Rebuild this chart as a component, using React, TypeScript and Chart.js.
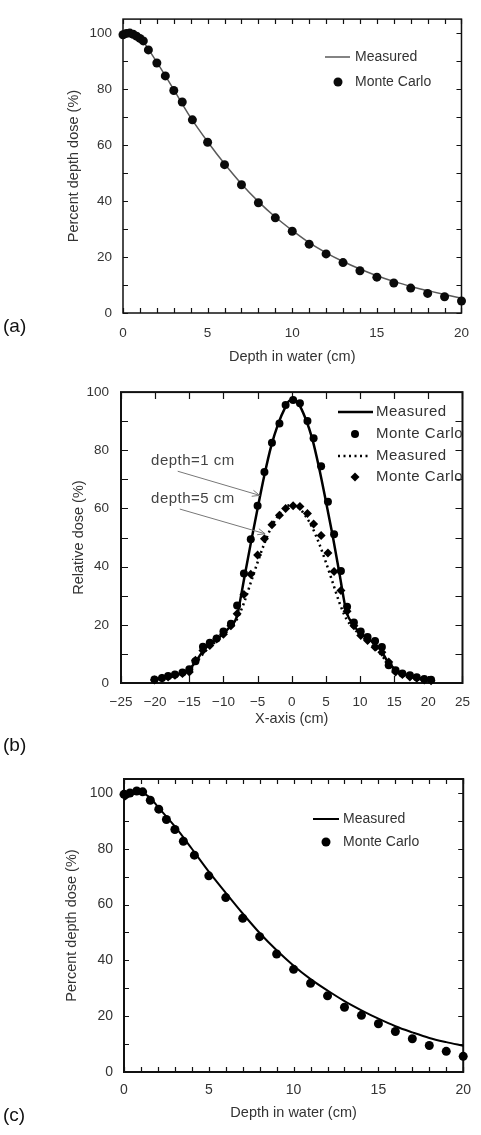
import React, { useEffect, useLayoutEffect, useRef } from "react";
import { Chart, registerables } from "chart.js";

Chart.register(...registerables);

const FONT = '"Liberation Sans", Arial, Helvetica, sans-serif';
const TEXT = "#333333";
const W = 481;

// ---------- (a) percent depth dose ----------
const A_MEAS_X = [0, 0.25, 0.5, 0.75, 1, 1.5, 2, 3, 4, 5, 6, 7, 8, 9, 10, 11, 12, 13, 14, 15, 16, 17, 18, 19, 20];
const A_MEAS_Y = [98.8, 99.7, 100, 99.5, 98.6, 94.3, 89.6, 79.8, 69.8, 61.2, 53.3, 46.1, 39.8, 34.3, 29.5, 25.1, 21.5, 18.4, 15.7, 13.3, 11.3, 9.5, 8.0, 6.6, 5.3];
const A_MC_X = [0, 0.2, 0.4, 0.6, 0.8, 1.0, 1.2, 1.5, 2, 2.5, 3, 3.5, 4.1, 5, 6, 7, 8, 9, 10, 11, 12, 13, 14, 15, 16, 17, 18, 19, 20];
const A_MC_Y = [99.4, 99.9, 100, 99.6, 98.9, 98.1, 97.2, 94, 89.3, 84.7, 79.5, 75.4, 69, 61, 53, 45.8, 39.4, 34, 29.2, 24.6, 21.1, 18, 15.1, 12.8, 10.7, 8.9, 7.0, 5.8, 4.3];

// ---------- (b) lateral profiles ----------
const B1_MEAS_X = [-20, -18, -16, -15, -14, -13, -12, -11, -10, -9, -8, -7.5, -7, -6, -5, -4, -3, -2, -1, -0.3, 0.5, 1, 2, 3, 4, 5, 6, 7, 7.5, 8, 9, 10, 11, 12, 13, 14, 15, 16, 18, 20];
const B1_MEAS_Y = [1.2, 2.2, 3.5, 4.8, 7.5, 11, 13.2, 15, 17, 19.5, 23, 29, 35.5, 48, 60, 71.5, 81.5, 89, 94.5, 97, 97, 96, 91, 84, 74, 62.5, 50.5, 37.5, 30.5, 24.5, 20, 17.3, 15.5, 13.8, 11.5, 7.5, 5, 3.5, 2, 1.2];
const B1_MC_X = [-20.1, -19.0, -18.1, -17.1, -16.0, -15.0, -14.1, -13.0, -12.0, -11.0, -10.0, -8.9, -8.0, -7.0, -6.0, -5.0, -4.0, -2.9, -1.8, -0.9, 0.2, 1.2, 2.3, 3.2, 4.3, 5.3, 6.2, 7.2, 8.1, 9.1, 10.1, 11.1, 12.2, 13.2, 14.2, 15.2, 16.2, 17.3, 18.3, 19.4, 20.4];
const B1_MC_Y = [1.2, 1.7, 2.4, 2.9, 3.6, 4.7, 7.5, 12.5, 13.8, 15.3, 17.7, 20.4, 26.6, 37.6, 49.4, 60.9, 72.5, 82.6, 89.2, 95.6, 97.3, 96.2, 90.1, 84.1, 74.5, 62.3, 51.1, 38.5, 26.2, 20.8, 17.7, 15.8, 14.4, 12.4, 6.1, 4.4, 3.3, 2.7, 2.0, 1.4, 1.1];
const B5_MEAS_X = [-20, -18, -16, -15, -14, -13, -12, -11, -10, -9, -8, -7, -6, -5, -4, -3, -2, -1, 0, 1, 2, 3, 4, 5, 6, 7, 8, 9, 10, 11, 12, 13, 14, 15, 16, 18, 20];
const B5_MEAS_Y = [1, 2, 3.2, 4.5, 7, 10, 12.5, 14.5, 16.5, 19, 22, 27.5, 34.5, 41.5, 48, 53.5, 57.5, 60.3, 61.2, 60.3, 57.5, 53.5, 48, 41.5, 34.5, 27.5, 22, 19, 16.5, 14.5, 12.5, 10, 7, 4.5, 3.2, 2, 1];
const B5_MC_X = [-20.1, -19.0, -18.1, -17.1, -16.0, -15.0, -14.1, -13.0, -12.0, -11.0, -10.0, -8.9, -8.0, -7.0, -6.0, -5.0, -4.0, -2.9, -1.8, -0.9, 0.2, 1.2, 2.3, 3.2, 4.3, 5.3, 6.2, 7.2, 8.1, 9.1, 10.1, 11.1, 12.2, 13.2, 14.2, 15.2, 16.2, 17.3, 18.3, 19.4, 20.4];
const B5_MC_Y = [1.0, 1.6, 2.1, 2.7, 3.3, 3.8, 7.8, 11.2, 12.9, 15.1, 16.8, 19.7, 23.8, 30.4, 37.4, 44.0, 49.6, 54.4, 57.7, 60.0, 60.9, 60.7, 58.3, 54.7, 50.7, 44.7, 38.3, 31.8, 24.7, 19.7, 16.3, 14.6, 12.3, 10.6, 7.2, 3.8, 2.9, 2.1, 1.6, 1.0, 0.8];

// ---------- (c) percent depth dose ----------
const C_MEAS_X = [0, 0.5, 1, 1.5, 2, 3, 4, 5, 6, 7, 8, 9, 10, 11, 12, 13, 14, 15, 16, 17, 18, 19, 20];
const C_MEAS_Y = [97.5, 99.5, 100, 98.5, 95, 88, 80, 71.8, 64.2, 56.8, 49.8, 43.6, 38.1, 33.3, 29.2, 25.4, 22.1, 19.1, 16.4, 14.2, 12.2, 10.7, 9.4];
const C_MC_X = [0, 0.35, 0.75, 1.1, 1.55, 2.05, 2.5, 3, 3.5, 4.15, 5, 6, 7, 8, 9, 10, 11, 12, 13, 14, 15, 16, 17, 18, 19, 20];
const C_MC_Y = [99.5, 100, 100.7, 100.4, 97.4, 94.2, 90.5, 86.9, 82.7, 77.7, 70.3, 62.5, 55.1, 48.5, 42.3, 36.8, 31.8, 27.3, 23.2, 20.3, 17.3, 14.5, 11.9, 9.5, 7.4, 5.6];

// ---------- labels ----------
const DEPTH_TITLE = "Depth in water (cm)";
const PDD_TITLE = "Percent depth dose (%)";
const REL_TITLE = "Relative dose (%)";
const XAXIS_TITLE = "X-axis (cm)";
const LEG_MEAS = "Measured";
const LEG_MC = "Monte Carlo";
const NOTE_1 = "depth=1 cm";
const NOTE_5 = "depth=5 cm";
const PANEL_LABELS = ["(a)", "(b)", "(c)"];

const pts = (xs: number[], ys: number[]) => xs.map((x, i) => ({ x, y: ys[i] }));

type LegendItem = { kind: "line" | "circle" | "diamond"; ds: number; text: string; x1: number; x2: number; y: number; tx: number };
type Note = { text: string; tx: number; ty: number; ax1: number; ay1: number; ax2: number; ay2: number };

interface Spec {
  height: number;
  area: { left: number; top: number; right: number; bottom: number };
  x: { min: number; max: number; step: number; minor: number; title: string; pad: number; titlePad: number; minus?: boolean };
  y: { min: number; max: number; step: number; minor: number; title: string; pad: number; titlePad: number };
  tickFont: number;
  titleFont: number;
  frameWidth: number;
  tickLen: number;
  datasets: any[];
  legend: LegendItem[];
  legendFont: number;
  legendSpacing: number;
  notes?: Note[];
}

function drawMarker(ctx: CanvasRenderingContext2D, kind: string, x: number, y: number, r: number, color: string) {
  ctx.fillStyle = color;
  ctx.beginPath();
  if (kind === "diamond") {
    ctx.moveTo(x, y - r);
    ctx.lineTo(x + r, y);
    ctx.lineTo(x, y + r);
    ctx.lineTo(x - r, y);
    ctx.closePath();
  } else {
    ctx.arc(x, y, r, 0, Math.PI * 2);
  }
  ctx.fill();
}

function buildConfig(spec: Spec): any {
  const { area } = spec;
  const framePlugin = {
    id: "frameTicks",
    beforeDatasetsDraw(chart: any) {
      const { ctx, chartArea: a, scales } = chart;
      const xs = scales.x;
      const ys = scales.y;
      ctx.save();
      ctx.strokeStyle = "#111";
      ctx.lineWidth = spec.frameWidth;
      ctx.strokeRect(a.left, a.top, a.right - a.left, a.bottom - a.top);
      ctx.lineWidth = 1.2;
      const L = spec.tickLen;
      ctx.beginPath();
      for (let v = spec.x.min; v <= spec.x.max + 1e-9; v += spec.x.minor) {
        const px = Math.round(xs.getPixelForValue(v)) + 0.5;
        ctx.moveTo(px, a.bottom);
        ctx.lineTo(px, a.bottom - L);
        ctx.moveTo(px, a.top);
        ctx.lineTo(px, a.top + L);
      }
      for (let v = spec.y.min; v <= spec.y.max + 1e-9; v += spec.y.minor) {
        const py = Math.round(ys.getPixelForValue(v)) + 0.5;
        ctx.moveTo(a.left, py);
        ctx.lineTo(a.left + L, py);
        ctx.moveTo(a.right, py);
        ctx.lineTo(a.right - L, py);
      }
      ctx.stroke();
      ctx.restore();
    },
    afterDraw(chart: any) {
      const { ctx, scales } = chart;
      const xs = scales.x;
      const ys = scales.y;
      ctx.save();
      ctx.font = `${spec.legendFont}px ${FONT}`;
      (ctx as any).letterSpacing = `${spec.legendSpacing}px`;
      ctx.textBaseline = "middle";
      ctx.textAlign = "left";
      for (const it of spec.legend) {
        const ds = spec.datasets[it.ds];
        if (it.kind === "line") {
          ctx.strokeStyle = ds.borderColor;
          ctx.lineWidth = ds.borderWidth;
          ctx.setLineDash(ds.borderDash || []);
          ctx.beginPath();
          ctx.moveTo(it.x1, it.y);
          ctx.lineTo(it.x2, it.y);
          ctx.stroke();
          ctx.setLineDash([]);
        } else {
          drawMarker(ctx, it.kind, (it.x1 + it.x2) / 2, it.y, ds.pointRadius, ds.pointBackgroundColor);
        }
        ctx.fillStyle = TEXT;
        ctx.fillText(it.text, it.tx, it.y);
      }
      for (const n of spec.notes || []) {
        ctx.fillStyle = "#444";
        ctx.fillText(n.text, xs.getPixelForValue(n.tx), ys.getPixelForValue(n.ty));
        const x1 = xs.getPixelForValue(n.ax1);
        const y1 = ys.getPixelForValue(n.ay1);
        const x2 = xs.getPixelForValue(n.ax2);
        const y2 = ys.getPixelForValue(n.ay2);
        ctx.strokeStyle = "#777";
        ctx.lineWidth = 1;
        ctx.beginPath();
        ctx.moveTo(x1, y1);
        ctx.lineTo(x2, y2);
        const ang = Math.atan2(y2 - y1, x2 - x1);
        const hl = 8;
        ctx.moveTo(x2 - hl * Math.cos(ang - 0.4), y2 - hl * Math.sin(ang - 0.4));
        ctx.lineTo(x2, y2);
        ctx.lineTo(x2 - hl * Math.cos(ang + 0.4), y2 - hl * Math.sin(ang + 0.4));
        ctx.stroke();
      }
      ctx.restore();
    },
  };

  const tickFont = { family: FONT, size: spec.tickFont };
  const titleFont = { family: FONT, size: spec.titleFont };

  return {
    type: "scatter",
    data: { datasets: spec.datasets },
    options: {
      responsive: false,
      animation: false,
      devicePixelRatio: 1,
      events: [],
      layout: { padding: { left: 0, top: area.top, right: W - area.right, bottom: 0 } },
      plugins: { legend: { display: false }, tooltip: { enabled: false } },
      scales: {
        x: {
          type: "linear",
          position: "bottom",
          min: spec.x.min,
          max: spec.x.max,
          grid: { display: false, drawTicks: false },
          border: { display: false },
          ticks: {
            stepSize: spec.x.step,
            autoSkip: false,
            maxRotation: 0,
            includeBounds: false,
            padding: spec.x.pad,
            color: TEXT,
            font: tickFont,
            callback: (v: number) => (spec.x.minus && v < 0 ? "\u2212" + Math.abs(v) : String(v)),
          },
          title: { display: true, text: spec.x.title, color: TEXT, font: titleFont, padding: { top: 0, bottom: spec.x.titlePad } },
          afterFit: (s: any) => {
            s.height = spec.height - area.bottom;
          },
        },
        y: {
          type: "linear",
          position: "left",
          min: spec.y.min,
          max: spec.y.max,
          grid: { display: false, drawTicks: false },
          border: { display: false },
          ticks: {
            stepSize: spec.y.step,
            autoSkip: false,
            includeBounds: false,
            padding: spec.y.pad,
            color: TEXT,
            font: tickFont,
            callback: (v: number) => String(v),
          },
          title: { display: true, text: spec.y.title, color: TEXT, font: titleFont, padding: { top: spec.y.titlePad, bottom: 0 } },
          afterFit: (s: any) => {
            s.width = area.left;
          },
        },
      },
    },
    plugins: [framePlugin],
  };
}

const SPEC_A: Spec = {
  height: 372,
  area: { left: 123, top: 10, right: 472, bottom: 313 },
  x: { min: 0, max: 20, step: 5, minor: 1, title: DEPTH_TITLE, pad: 12, titlePad: 6 },
  y: { min: 0, max: 105, step: 20, minor: 10, title: PDD_TITLE, pad: 11, titlePad: 65 },
  tickFont: 13.5,
  titleFont: 14.5,
  frameWidth: 1.5,
  tickLen: 5,
  datasets: [
    { label: LEG_MC, data: pts(A_MC_X, A_MC_Y), showLine: false, pointRadius: 4.5, pointBackgroundColor: "#0a0a0a", pointBorderWidth: 0, clip: false },
    { label: LEG_MEAS, data: pts(A_MEAS_X, A_MEAS_Y), showLine: true, pointRadius: 0, borderColor: "#5a5a5a", borderWidth: 1.5, cubicInterpolationMode: "monotone", clip: false },
  ],
  legend: [
    { kind: "line", ds: 1, text: LEG_MEAS, x1: 325, x2: 350, y: 57, tx: 355 },
    { kind: "circle", ds: 0, text: LEG_MC, x1: 333, x2: 343, y: 82, tx: 355 },
  ],
  legendFont: 14,
  legendSpacing: 0,
};

const SPEC_B: Spec = {
  height: 360,
  area: { left: 121, top: 16, right: 468, bottom: 311 },
  x: { min: -25, max: 25, step: 5, minor: 5, title: XAXIS_TITLE, pad: 11, titlePad: 4, minus: true },
  y: { min: 0, max: 100, step: 20, minor: 10, title: REL_TITLE, pad: 12, titlePad: 70 },
  tickFont: 13.5,
  titleFont: 14.5,
  frameWidth: 2,
  tickLen: 7,
  datasets: [
    { label: LEG_MC, data: pts(B1_MC_X, B1_MC_Y), showLine: false, pointRadius: 4, pointBackgroundColor: "#000", pointBorderWidth: 0, clip: false },
    { label: LEG_MC, data: pts(B5_MC_X, B5_MC_Y), showLine: false, pointStyle: "rectRot", pointRadius: 4.5, pointBackgroundColor: "#000", pointBorderWidth: 0, clip: false },
    { label: LEG_MEAS, data: pts(B1_MEAS_X, B1_MEAS_Y), showLine: true, pointRadius: 0, borderColor: "#000", borderWidth: 2.5, cubicInterpolationMode: "monotone" },
    { label: LEG_MEAS, data: pts(B5_MEAS_X, B5_MEAS_Y), showLine: true, pointRadius: 0, borderColor: "#000", borderWidth: 2.5, borderDash: [2, 3.5], cubicInterpolationMode: "monotone" },
  ],
  legend: [
    { kind: "line", ds: 2, text: LEG_MEAS, x1: 338, x2: 373, y: 40, tx: 376 },
    { kind: "circle", ds: 0, text: LEG_MC, x1: 350, x2: 360, y: 62, tx: 376 },
    { kind: "line", ds: 3, text: LEG_MEAS, x1: 338, x2: 371, y: 84, tx: 376 },
    { kind: "diamond", ds: 1, text: LEG_MC, x1: 350, x2: 360, y: 105, tx: 376 },
  ],
  legendFont: 15,
  legendSpacing: 0.5,
  notes: [
    { text: NOTE_1, tx: -20.6, ty: 76.3, ax1: -16.7, ay1: 72.8, ax2: -4.7, ay2: 64.5 },
    { text: NOTE_5, tx: -20.6, ty: 63.4, ax1: -16.4, ay1: 59.8, ax2: -3.9, ay2: 51.3 },
  ],
};

const SPEC_C: Spec = {
  height: 390,
  area: { left: 124, top: 34, right: 473, bottom: 327 },
  x: { min: 0, max: 20, step: 5, minor: 1, title: DEPTH_TITLE, pad: 10, titlePad: 13 },
  y: { min: 0, max: 105, step: 20, minor: 10, title: PDD_TITLE, pad: 11, titlePad: 63 },
  tickFont: 14,
  titleFont: 14.5,
  frameWidth: 2,
  tickLen: 5,
  datasets: [
    { label: LEG_MC, data: pts(C_MC_X, C_MC_Y), showLine: false, pointRadius: 4.5, pointBackgroundColor: "#000", pointBorderWidth: 0, clip: false },
    { label: LEG_MEAS, data: pts(C_MEAS_X, C_MEAS_Y), showLine: true, pointRadius: 0, borderColor: "#000", borderWidth: 2, cubicInterpolationMode: "monotone", clip: false },
  ],
  legend: [
    { kind: "line", ds: 1, text: LEG_MEAS, x1: 313, x2: 339, y: 74, tx: 343 },
    { kind: "circle", ds: 0, text: LEG_MC, x1: 321, x2: 331, y: 97, tx: 343 },
  ],
  legendFont: 14,
  legendSpacing: 0,
};

function Panel({ spec, top }: { spec: Spec; top: number }) {
  const ref = useRef<HTMLCanvasElement>(null);
  useEffect(() => {
    const chart = new Chart(ref.current as HTMLCanvasElement, buildConfig(spec));
    return () => chart.destroy();
  }, []);
  return (
    <canvas
      ref={ref}
      width={W}
      height={spec.height}
      style={{ position: "absolute", left: 0, top, width: W, height: spec.height, display: "block" }}
    />
  );
}

const labelStyle = (top: number): React.CSSProperties => ({
  position: "absolute",
  left: 3,
  top,
  fontFamily: FONT,
  fontSize: 19,
  lineHeight: "22px",
  color: "#111",
  zIndex: 2,
});

export default function App() {
  useLayoutEffect(() => {
    document.body.style.margin = "0";
  }, []);
  return (
    <div style={{ position: "relative", width: W, height: 1135, overflow: "hidden", background: "#fff" }}>
      <Panel spec={SPEC_A} top={0} />
      <Panel spec={SPEC_B} top={372} />
      <Panel spec={SPEC_C} top={745} />
      <div style={labelStyle(315)}>{PANEL_LABELS[0]}</div>
      <div style={labelStyle(734)}>{PANEL_LABELS[1]}</div>
      <div style={labelStyle(1104)}>{PANEL_LABELS[2]}</div>
    </div>
  );
}
